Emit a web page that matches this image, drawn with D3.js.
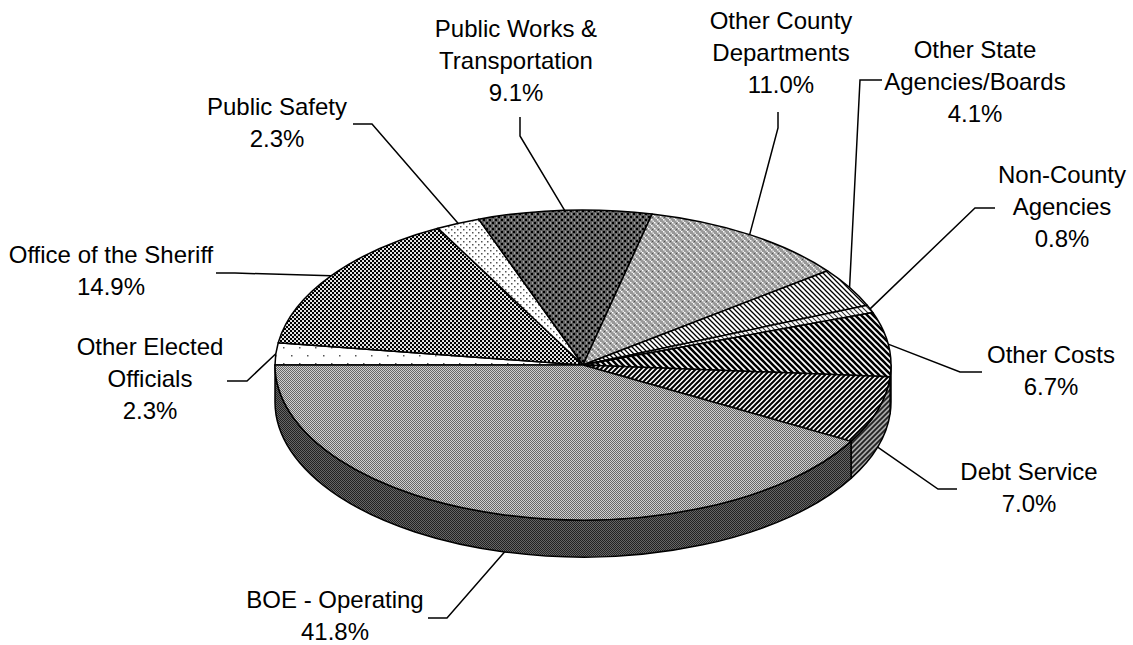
<!DOCTYPE html>
<html>
<head>
<meta charset="utf-8">
<script src="https://cdn.jsdelivr.net/npm/d3@7"></script>
<style>
  body { margin: 0; background: #fff; }
  text { font-family: "Liberation Sans", Arial, sans-serif; font-size: 24px; fill: #000; }
</style>
</head>
<body>
<svg id="chart" width="1133" height="645"></svg>
<script>
// Budget shares, in drawing order (clockwise from the left edge of the pie)
const categories = [
  "Other Elected Officials",
  "Office of the Sheriff",
  "Public Safety",
  "Public Works & Transportation",
  "Other County Departments",
  "Other State Agencies/Boards",
  "Non-County Agencies",
  "Other Costs",
  "Debt Service",
  "BOE - Operating"
];
const shares = [2.3, 14.9, 2.3, 9.1, 11.0, 4.1, 0.8, 6.7, 7.0, 41.8];
const labelLines = [
  ["Other Elected", "Officials"],
  ["Office of the Sheriff"],
  ["Public Safety"],
  ["Public Works &", "Transportation"],
  ["Other County", "Departments"],
  ["Other State", "Agencies/Boards"],
  ["Non-County", "Agencies"],
  ["Other Costs"],
  ["Debt Service"],
  ["BOE - Operating"]
];

// Label placement: text centre x, first baseline y, leader end point and knee
const labelLayout = [
  { x: 150, y: 355, end: [227, 381], knee: [247, 381] },
  { x: 111, y: 263, end: [216, 273], knee: [235, 273] },
  { x: 277, y: 115, end: [353, 124], knee: [372, 124] },
  { x: 516, y: 37,  end: [520, 117], knee: [520, 136] },
  { x: 781, y: 29,  end: [778, 112], knee: [778, 128] },
  { x: 975, y: 58,  end: [882, 80],  knee: [860, 80] },
  { x: 1062, y: 183, end: [995, 208], knee: [975, 208] },
  { x: 1051, y: 363, end: [982, 372], knee: [960, 372] },
  { x: 1029, y: 480, end: [957, 489], knee: [938, 489] },
  { x: 335, y: 608, end: [428, 618], knee: [447, 618] }
];
const lineHeight = 32;

const topFill = ["p-elected", "p-sheriff", "p-safety", "p-works", "p-county",
                 "p-state", "p-noncounty", "p-other", "p-debt", "p-boe"];
const sideFill = ["p-elected", "p-sheriff", "p-safety", "p-works", "p-county",
                  "p-state", "p-noncounty", "p-other-side", "p-debt-side", "p-boe-side"];

const svg = d3.select("#chart");
const defs = svg.append("defs");

function pattern(id, w, h, bg, draw) {
  const p = defs.append("pattern")
    .attr("id", id)
    .attr("patternUnits", "userSpaceOnUse")
    .attr("width", w).attr("height", h);
  p.append("rect").attr("width", w).attr("height", h).attr("fill", bg);
  draw(p);
}
const sq = (p, x, y, s, c) => p.append("rect").attr("x", x).attr("y", y).attr("width", s).attr("height", s).attr("fill", c);
const stroke = (p, d, c, w) => p.append("path").attr("d", d).attr("stroke", c).attr("stroke-width", w).attr("fill", "none");

pattern("p-elected", 16, 16, "#fff", p => { sq(p, 3, 3, 1.5, "#555"); sq(p, 11, 11, 1.5, "#555"); });
pattern("p-sheriff", 4, 4, "#e0e0e0", p => { sq(p, 0, 0, 2, "#000"); sq(p, 2, 2, 2, "#000"); sq(p, 3, 1, 0.8, "#fff"); });
pattern("p-safety", 6, 6, "#fff", p => { sq(p, 1, 1, 1.5, "#555"); sq(p, 4, 4, 1.5, "#555"); });
pattern("p-works", 6, 6, "#5e5e5e", p => {
  sq(p, 0, 0, 2, "#000"); sq(p, 3, 3, 2, "#000");
  sq(p, 4, 0.5, 1, "#ddd"); sq(p, 1, 3.5, 1, "#ddd");
});
pattern("p-county", 6, 6, "#999", p => {
  sq(p, 0, 0, 1.5, "#fff"); sq(p, 3, 3, 1.5, "#fff");
  sq(p, 1.5, 1.5, 1.5, "#e8e8e8"); sq(p, 4.5, 4.5, 1.5, "#e8e8e8");
  sq(p, 4, 1, 1, "#555");
});
const down = s => `M0,0L${s},${s}M${-s / 2},${s / 2}L${s / 2},${s * 1.5}M${s / 2},${-s / 2}L${s * 1.5},${s / 2}`;
const up = s => `M0,${s}L${s},0M${-s / 2},${s / 2}L${s / 2},${-s / 2}M${s / 2},${s * 1.5}L${s * 1.5},${s / 2}`;
pattern("p-state", 5, 5, "#fff", p => stroke(p, down(5), "#000", 1.3));
pattern("p-noncounty", 5, 5, "#fff", p => stroke(p, down(5), "#333", 1.1));
pattern("p-other", 6, 6, "#fff", p => stroke(p, down(6), "#000", 2.6));
pattern("p-debt", 5, 5, "#fff", p => stroke(p, up(5), "#000", 2));
pattern("p-boe", 2, 2, "#cfcfcf", p => { sq(p, 0, 0, 1, "#666"); sq(p, 1, 1, 1, "#666"); });
pattern("p-boe-side", 2, 2, "#666", p => { sq(p, 0, 0, 1, "#222"); sq(p, 1, 1, 1, "#222"); });
pattern("p-debt-side", 5, 5, "#a8a8a8", p => stroke(p, up(5), "#222", 1.8));
pattern("p-other-side", 6, 6, "#999", p => stroke(p, down(6), "#111", 2.4));

// Tilted pie geometry
const cx = 583, cy = 365, rx = 308, ry = 155, depth = 37;
const pie = d3.pie().sort(null).value(d => d)
  .startAngle(1.5 * Math.PI).endAngle(3.5 * Math.PI);
const arcs = pie(shares).map((a, i) => ({
  i,
  value: a.value,
  t0: a.startAngle - Math.PI / 2,
  t1: a.endAngle - Math.PI / 2
}));
const pt = (t, dy = 0) => [cx + rx * Math.cos(t), cy + ry * Math.sin(t) + dy];

function topPath(t0, t1) {
  const a = pt(t0), b = pt(t1), large = (t1 - t0) > Math.PI ? 1 : 0;
  return `M${cx},${cy}L${a}A${rx},${ry} 0 ${large} 1 ${b}Z`;
}
function sidePath(t0, t1) {
  const a = pt(t0), b = pt(t1), c = pt(t1, depth), d = pt(t0, depth);
  const large = (t1 - t0) > Math.PI ? 1 : 0;
  return `M${a}A${rx},${ry} 0 ${large} 1 ${b}L${c}A${rx},${ry} 0 ${large} 0 ${d}Z`;
}

// Outer walls of the slices facing the viewer
const front0 = 2 * Math.PI, front1 = 3 * Math.PI;
const sides = arcs
  .map(a => ({ i: a.i, t0: Math.max(a.t0, front0), t1: Math.min(a.t1, front1) }))
  .filter(s => s.t1 > s.t0);

const g = svg.append("g");
g.selectAll("path.side").data(sides).join("path")
  .attr("class", "side")
  .attr("d", s => sidePath(s.t0, s.t1))
  .attr("fill", s => `url(#${sideFill[s.i]})`)
  .attr("stroke", "#000").attr("stroke-width", 1.5).attr("stroke-linejoin", "round");

g.selectAll("path.top").data(arcs).join("path")
  .attr("class", "top")
  .attr("d", a => topPath(a.t0, a.t1))
  .attr("fill", a => `url(#${topFill[a.i]})`)
  .attr("stroke", "#000").attr("stroke-width", 1.5).attr("stroke-linejoin", "round");

// Leader lines
const anchor = a => {
  const m = (a.t0 + a.t1) / 2;
  return pt(m, Math.sin(m) > 0.05 ? depth : 0);
};
svg.append("g").selectAll("path").data(arcs).join("path")
  .attr("d", a => d3.line()([labelLayout[a.i].end, labelLayout[a.i].knee, anchor(a)]))
  .attr("fill", "none").attr("stroke", "#000").attr("stroke-width", 1.5);

// Labels
const fmt = d3.format(".1f");
const labels = svg.append("g").selectAll("text").data(arcs).join("text")
  .attr("text-anchor", "middle");
labels.selectAll("tspan")
  .data(a => labelLines[a.i].concat([fmt(a.value) + "%"]).map((s, k) => ({ s, k, L: labelLayout[a.i] })))
  .join("tspan")
  .attr("x", d => d.L.x)
  .attr("y", d => d.L.y + d.k * lineHeight)
  .text(d => d.s);
</script>
</body>
</html>
